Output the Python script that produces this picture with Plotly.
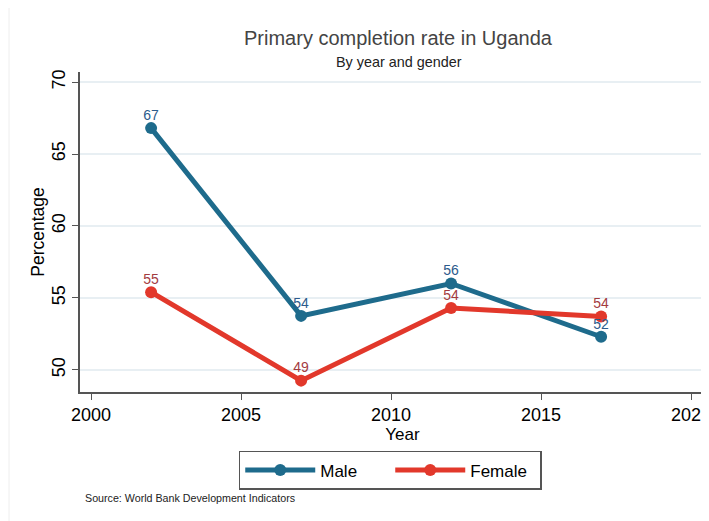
"""Primary completion rate in Uganda, by year and gender (Stata-style line chart)."""
import plotly.graph_objects as go

# Data
years = [2002, 2007, 2012, 2017]
male = [66.8, 53.75, 56.0, 52.3]
female = [55.4, 49.25, 54.3, 53.7]

MALE_LINE = "#1e6b8c"
FEMALE_LINE = "#e2382b"
MALE_TEXT = "#2c5b8c"
FEMALE_TEXT = "#a33b3f"
FONT = "Liberation Sans, Arial, sans-serif"

fig = go.Figure()
series = [("Male", male, MALE_LINE, MALE_TEXT),
          ("Female", female, FEMALE_LINE, FEMALE_TEXT)]
for name, vals, lc, tc in series:
    fig.add_trace(go.Scatter(
        x=years, y=vals, name=name,
        mode="lines+markers",
        line=dict(color=lc, width=5),
        marker=dict(color=lc, size=12),
    ))
# value labels sit close above the points, so they get their own (invisible-marker) traces
for name, vals, lc, tc in series:
    fig.add_trace(go.Scatter(
        x=years, y=vals, showlegend=False, hoverinfo="skip",
        mode="markers+text",
        marker=dict(size=6, opacity=0),
        text=[f"{v:.0f}" for v in vals],
        textposition="top center",
        textfont=dict(color=tc, size=14, family=FONT),
        cliponaxis=False,
    ))

# the page body adds an 8px offset, so margins are set 8px smaller;
# the figure runs a little past the window on the right, like the source graph
fig.update_layout(
    width=717, height=521,
    margin=dict(l=72, r=0, t=64, b=137, autoexpand=False),
    paper_bgcolor="white", plot_bgcolor="white",
    font=dict(family=FONT, color="black"),
    showlegend=True,
    legend=dict(
        orientation="h", x=0.481, xanchor="center", y=-0.184, yanchor="top",
        bordercolor="#555555", borderwidth=1.5,
        font=dict(size=17, color="black"),
        itemwidth=70, entrywidthmode="pixels", entrywidth=65,
    ),
    annotations=[
        dict(text="Primary completion rate in Uganda", xref="paper", yref="paper",
             x=0.494, y=1.106, yanchor="middle", showarrow=False,
             font=dict(size=20, color="#444444")),
        dict(text="By year and gender", xref="paper", yref="paper",
             x=0.494, y=1.031, yanchor="middle", showarrow=False,
             font=dict(size=14.4, color="#222222")),
        dict(text="Source: World Bank Development Indicators", xref="paper", yref="paper",
             x=0.005, y=-0.331, xanchor="left", yanchor="middle", showarrow=False,
             font=dict(size=10.7, color="#222222")),
    ],
    shapes=[dict(type="line", xref="paper", yref="paper",
                 x0=-0.11, x1=-0.11, y0=-0.45, y1=1.25,
                 line=dict(color="#eeeeee", width=1), layer="below")],
)

fig.update_xaxes(
    range=[1999.63, 2021.13], tickvals=[2000, 2005, 2010, 2015, 2020],
    showgrid=False, zeroline=False,
    showline=True, linecolor="#555555", linewidth=1.5,
    ticks="outside", ticklen=6, tickcolor="#555555",
    tickfont=dict(size=18, color="black"),
    title=dict(text="Year", font=dict(size=17, color="black"), standoff=0),
)
fig.update_yaxes(
    range=[48.46, 70.7], tickvals=[50, 55, 60, 65, 70], tickangle=-90,
    showgrid=True, gridcolor="#e8eff3", gridwidth=1.5, zeroline=False,
    showline=True, linecolor="#555555", linewidth=1.5,
    ticks="outside", ticklen=6, tickcolor="#555555",
    tickfont=dict(size=18, color="black"),
    title=dict(text="Percentage", font=dict(size=17.5, color="black"), standoff=0),
)

fig.write_html("out.html")
